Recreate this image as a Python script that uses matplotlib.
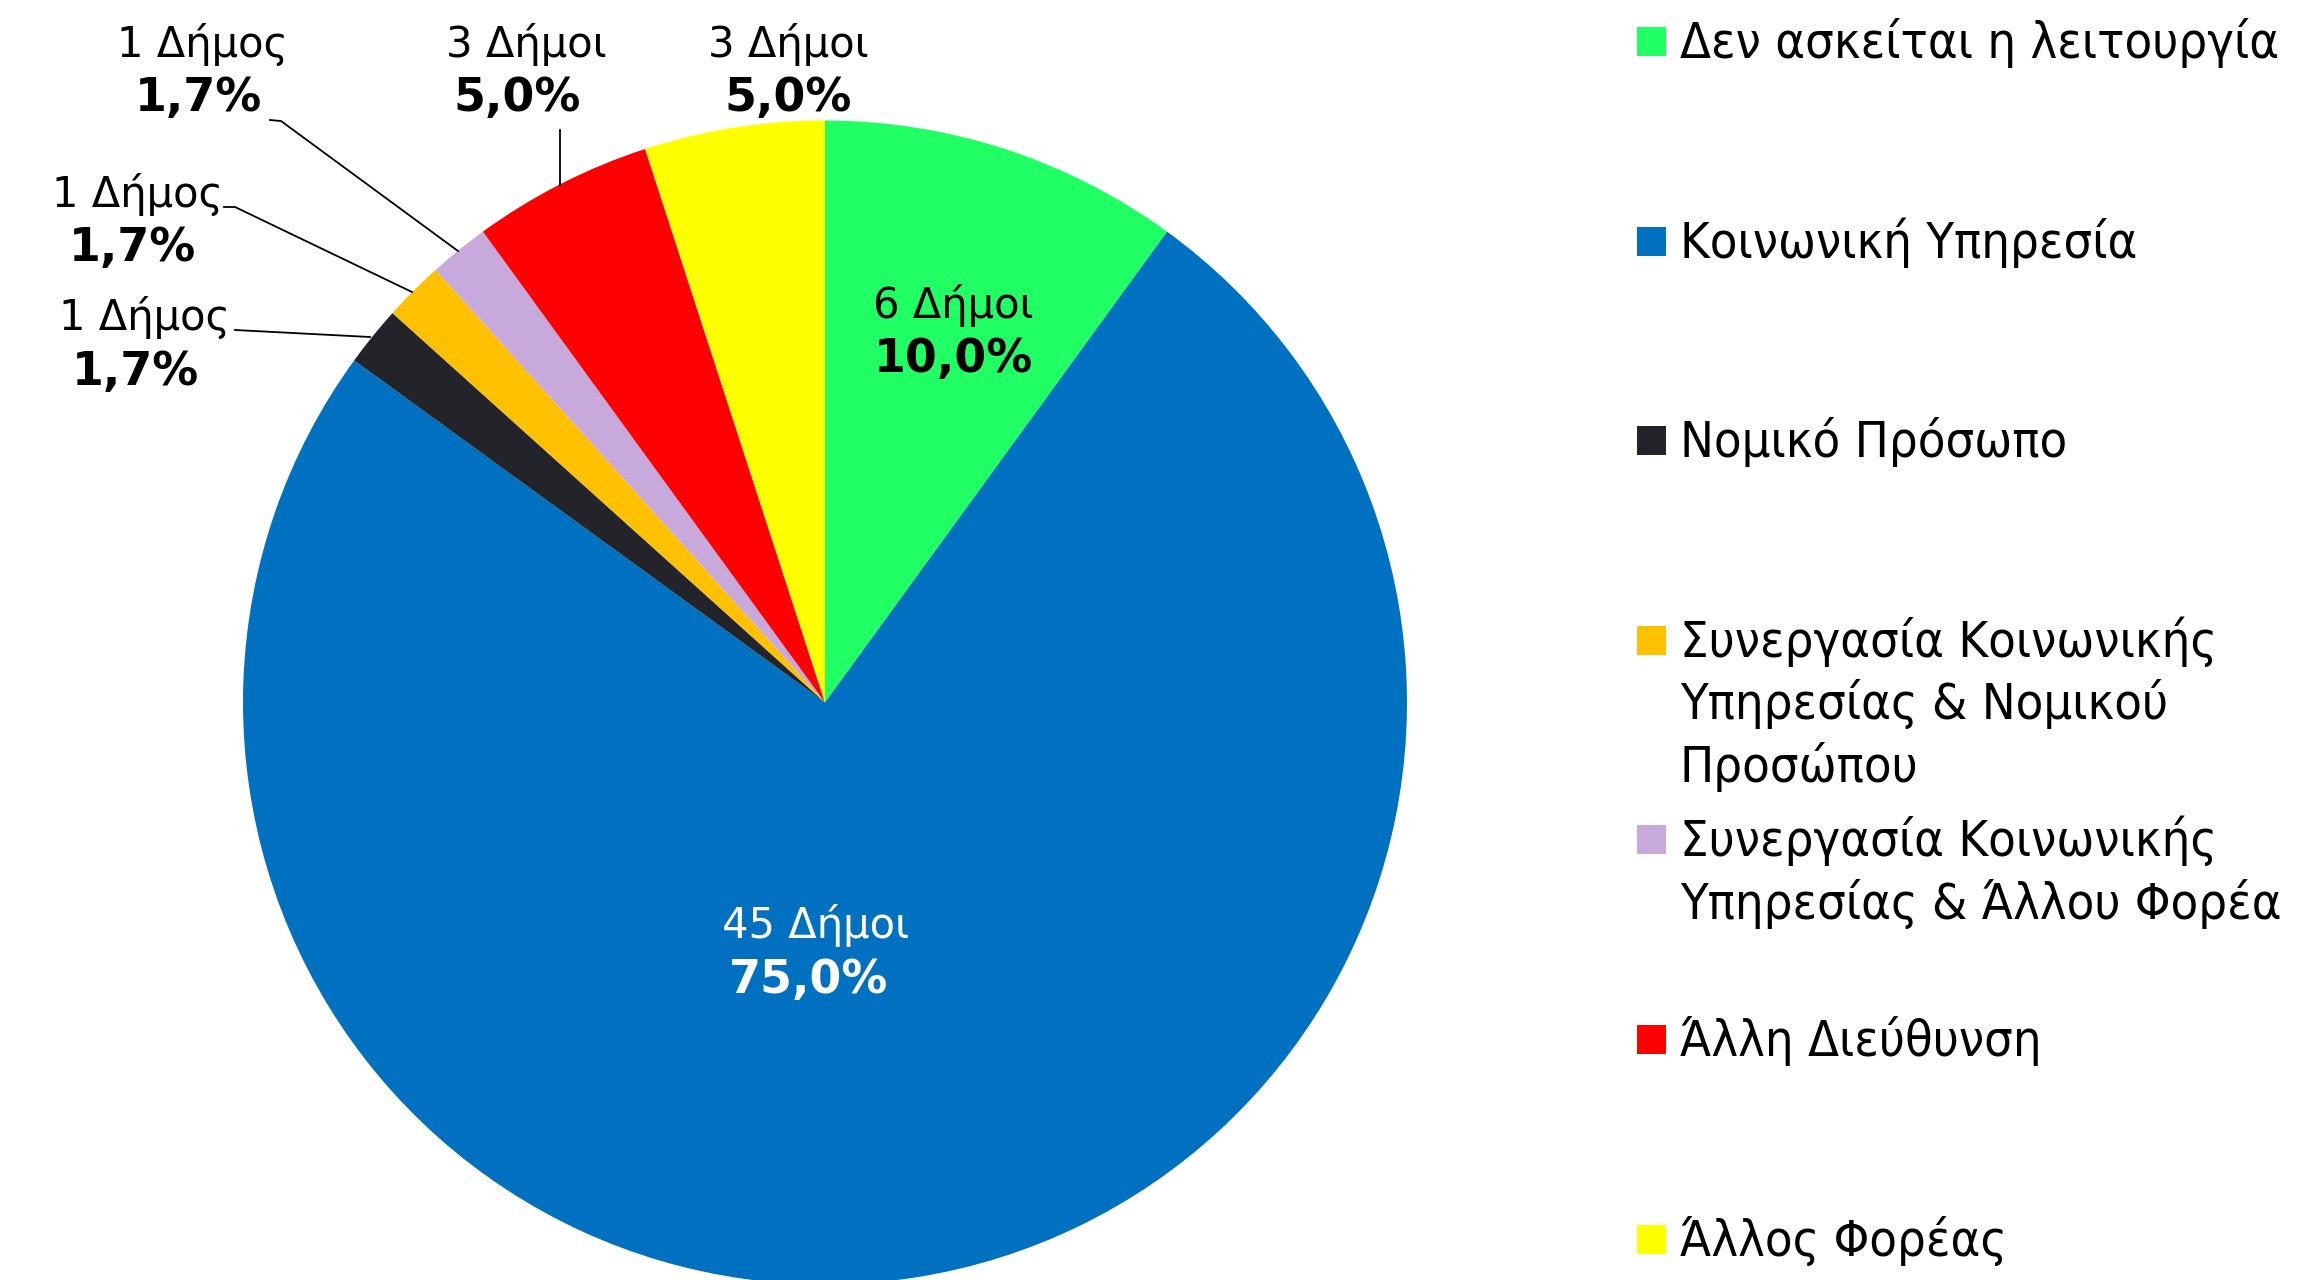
"""
Pie chart: department handling the function, by number of municipalities.
"""

import matplotlib.pyplot as plt
from matplotlib.patches import Rectangle

# =========================================================
# Data
# =========================================================
categories = [
    "Δεν ασκείται η λειτουργία",
    "Κοινωνική Υπηρεσία",
    "Νομικό Πρόσωπο",
    "Συνεργασία Κοινωνικής\nΥπηρεσίας & Νομικού\nΠροσώπου",
    "Συνεργασία Κοινωνικής\nΥπηρεσίας & Άλλου Φορέα",
    "Άλλη Διεύθυνση",
    "Άλλος Φορέας",
]
municipalities = [6, 45, 1, 1, 1, 3, 3]
colors = ["#20FF64", "#0070C0", "#232429", "#FFC000", "#C8A9DC", "#FF0000", "#FFFF00"]
label_colors = ["black", "white", "black", "black", "black", "black", "black"]

# =========================================================
# Layout (pixels in a 2305 x 1280 figure)
# =========================================================
W, H = 2305, 1280
CX, CY, R = 825, 702.5, 582

# label centre x (line 1, line 2) and baselines (line 1, line 2)
LABEL_POS = [
    (953, 953, 318, 372),
    (816, 809, 938, 993),
    (144, 135, 330, 385),
    (137, 132, 207, 261),
    (202, 198, 57, 111),
    (526, 517, 57, 111),
    (788, 788, 57, 111),
]
# leader lines, pixel points
LEADERS = {
    2: [(235, 330), (370, 337)],
    3: [(224, 207), (235, 207), (412, 292)],
    4: [(270, 120), (281, 121), (458, 251)],
    5: [(560, 130), (560, 185)],
}

LEG_X, LEG_Y0, LEG_STEP, LEG_LINE = 1637, 41.5, 199.6, 62.5
LEG_BOX = 29


def to_data(px, py):
    return (px - CX) / R, (CY - py) / R


fig = plt.figure(figsize=(W / 100, H / 100), dpi=100)
ax = fig.add_axes([(CX - R) / W, (H - CY - R) / H, 2 * R / W, 2 * R / H])

ax.pie(municipalities, colors=colors, startangle=90, counterclock=False,
       radius=1, wedgeprops=dict(linewidth=0))
ax.set_xlim(-1, 1)
ax.set_ylim(-1, 1)
ax.axis("off")

# ----- data labels -----
total = sum(municipalities)
for i, n in enumerate(municipalities):
    word = "Δήμος" if n == 1 else "Δήμοι"
    pct = f"{100 * n / total:.1f}%".replace(".", ",")
    x1, x2, b1, b2 = LABEL_POS[i]
    ax.text(*to_data(x1, b1), f"{n} {word}", ha="center", va="baseline",
            fontsize=30, color=label_colors[i], clip_on=False)
    ax.text(*to_data(x2, b2), pct, ha="center", va="baseline",
            fontsize=33, fontweight="bold", color=label_colors[i], clip_on=False)

for i, pts in LEADERS.items():
    xs, ys = zip(*[to_data(px, py) for px, py in pts])
    ax.plot(xs, ys, color="black", lw=1.3, clip_on=False)

# ----- legend (drawn by hand to keep Excel spacing) -----
leg_font = dict(fontsize=36.3, fontstretch="condensed")
for i, (cat, c) in enumerate(zip(categories, colors)):
    yc = LEG_Y0 + i * LEG_STEP
    fig.add_artist(Rectangle((LEG_X / W, 1 - (yc + LEG_BOX / 2) / H),
                             LEG_BOX / W, LEG_BOX / H,
                             facecolor=c, edgecolor="none",
                             transform=fig.transFigure))
    for k, line in enumerate(cat.split("\n")):
        base = yc + 16.5 + k * LEG_LINE
        fig.text((LEG_X + 43) / W, 1 - base / H, line,
                 ha="left", va="baseline", **leg_font)

fig.savefig("out.png", dpi=100)
